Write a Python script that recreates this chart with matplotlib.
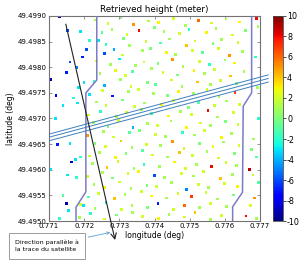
import matplotlib
matplotlib.use('Agg')
import matplotlib.pyplot as plt
from matplotlib.ticker import FormatStrFormatter, MultipleLocator

plt.rcParams['axes.unicode_minus'] = False

# retrieved heights: longitude, latitude, height (m)
lon = [
    0.77232, 0.77268, 0.77305, 0.77341, 0.77383, 0.77412, 0.77455, 0.77487, 0.77526, 0.77561, 0.77603, 0.77641,
    0.77251, 0.77279, 0.77322, 0.77356, 0.77399, 0.77427, 0.77472, 0.77498, 0.77547, 0.77575, 0.77621, 0.77658,
    0.77240, 0.77262, 0.77313, 0.77330, 0.77376, 0.77418, 0.77443, 0.77490, 0.77515, 0.77566, 0.77590, 0.77637,
    0.77258, 0.77285, 0.77309, 0.77365, 0.77389, 0.77433, 0.77460, 0.77507, 0.77536, 0.77582, 0.77612, 0.77650,
    0.77236, 0.77274, 0.77300, 0.77347, 0.77370, 0.77410, 0.77452, 0.77481, 0.77528, 0.77556, 0.77600, 0.77628,
    0.77245, 0.77290, 0.77317, 0.77338, 0.77392, 0.77424, 0.77466, 0.77512, 0.77541, 0.77571, 0.77616, 0.77654,
    0.77228, 0.77259, 0.77304, 0.77333, 0.77380, 0.77403, 0.77449, 0.77478, 0.77522, 0.77560, 0.77588, 0.77633,
    0.77216, 0.77253, 0.77281, 0.77327, 0.77355, 0.77398, 0.77437, 0.77469, 0.77510, 0.77549, 0.77583, 0.77629,
    0.77235, 0.77262, 0.77310, 0.77344, 0.77372, 0.77420, 0.77454, 0.77496, 0.77525, 0.77570, 0.77604, 0.77642,
    0.77213, 0.77246, 0.77291, 0.77320, 0.77364, 0.77391, 0.77440, 0.77474, 0.77505, 0.77552, 0.77579, 0.77624,
    0.77226, 0.77268, 0.77298, 0.77339, 0.77381, 0.77409, 0.77447, 0.77491, 0.77530, 0.77558, 0.77601, 0.77637,
    0.77210, 0.77255, 0.77283, 0.77328, 0.77358, 0.77403, 0.77432, 0.77479, 0.77514, 0.77543, 0.77590, 0.77619,
    0.77231, 0.77260, 0.77305, 0.77336, 0.77377, 0.77417, 0.77451, 0.77484, 0.77527, 0.77566, 0.77596, 0.77640,
    0.77216, 0.77243, 0.77289, 0.77319, 0.77367, 0.77395, 0.77438, 0.77470, 0.77508, 0.77549, 0.77581, 0.77627,
    0.77224, 0.77265, 0.77296, 0.77342, 0.77370, 0.77414, 0.77456, 0.77488, 0.77519, 0.77561, 0.77603, 0.77632,
    0.77209, 0.77252, 0.77280, 0.77325, 0.77354, 0.77400, 0.77429, 0.77476, 0.77511, 0.77540, 0.77587, 0.77621,
    0.77228, 0.77257, 0.77301, 0.77333, 0.77379, 0.77406, 0.77449, 0.77490, 0.77524, 0.77553, 0.77598, 0.77636,
    0.77212, 0.77240, 0.77286, 0.77316, 0.77362, 0.77392, 0.77435, 0.77467, 0.77505, 0.77546, 0.77578, 0.77625,
    0.77190, 0.77231, 0.77262, 0.77307, 0.77336, 0.77381, 0.77410, 0.77455, 0.77485, 0.77528, 0.77560, 0.77604,
    0.77186, 0.77218, 0.77259, 0.77292, 0.77337, 0.77367, 0.77412, 0.77441, 0.77486, 0.77515, 0.77559, 0.77591,
    # west bank
    0.77131, 0.77152, 0.77190, 0.77215, 0.77160, 0.77150, 0.77180, 0.77195, 0.77206, 0.77185,
    0.77200, 0.77105, 0.77120, 0.77170, 0.77182, 0.77118, 0.77140, 0.77125, 0.77160, 0.77175,
    0.77164, 0.77190, 0.77152, 0.77178, 0.77105, 0.77140, 0.77150, 0.77155, 0.77130, 0.77198,
    # east bank
    0.77690, 0.77694, 0.77688, 0.77692, 0.77695, 0.77682, 0.77675, 0.77690, 0.77670, 0.77680,
    0.77695, 0.77685, 0.77672, 0.77660, 0.77690,
]
lat = [
    49.49892, 49.49885, 49.49896, 49.49883, 49.49890, 49.49887, 49.49895, 49.49882, 49.49891, 49.49886, 49.49894, 49.49888,
    49.49867, 49.49874, 49.49864, 49.49872, 49.49877, 49.49869, 49.49865, 49.49873, 49.49868, 49.49876, 49.49863, 49.49871,
    49.49852, 49.49845, 49.49856, 49.49843, 49.49850, 49.49847, 49.49855, 49.49842, 49.49851, 49.49846, 49.49854, 49.49848,
    49.49827, 49.49834, 49.49824, 49.49832, 49.49837, 49.49829, 49.49825, 49.49833, 49.49828, 49.49836, 49.49823, 49.49831,
    49.49812, 49.49805, 49.49816, 49.49803, 49.49810, 49.49807, 49.49815, 49.49802, 49.49811, 49.49806, 49.49814, 49.49808,
    49.49787, 49.49794, 49.49784, 49.49792, 49.49797, 49.49789, 49.49785, 49.49793, 49.49788, 49.49796, 49.49783, 49.49791,
    49.49772, 49.49765, 49.49776, 49.49763, 49.49770, 49.49767, 49.49775, 49.49762, 49.49771, 49.49766, 49.49774, 49.49768,
    49.49747, 49.49754, 49.49744, 49.49752, 49.49757, 49.49749, 49.49745, 49.49753, 49.49748, 49.49756, 49.49743, 49.49751,
    49.49732, 49.49725, 49.49736, 49.49723, 49.49730, 49.49727, 49.49735, 49.49722, 49.49731, 49.49726, 49.49734, 49.49728,
    49.49707, 49.49714, 49.49704, 49.49712, 49.49717, 49.49709, 49.49705, 49.49713, 49.49708, 49.49716, 49.49703, 49.49711,
    49.49692, 49.49685, 49.49696, 49.49683, 49.49690, 49.49687, 49.49695, 49.49682, 49.49691, 49.49686, 49.49694, 49.49688,
    49.49667, 49.49674, 49.49664, 49.49672, 49.49677, 49.49669, 49.49665, 49.49673, 49.49668, 49.49676, 49.49663, 49.49671,
    49.49652, 49.49645, 49.49656, 49.49643, 49.49650, 49.49647, 49.49655, 49.49642, 49.49651, 49.49646, 49.49654, 49.49648,
    49.49627, 49.49634, 49.49624, 49.49632, 49.49637, 49.49629, 49.49625, 49.49633, 49.49628, 49.49636, 49.49623, 49.49631,
    49.49612, 49.49605, 49.49616, 49.49603, 49.49610, 49.49607, 49.49615, 49.49602, 49.49611, 49.49606, 49.49614, 49.49608,
    49.49587, 49.49594, 49.49584, 49.49592, 49.49597, 49.49589, 49.49585, 49.49593, 49.49588, 49.49596, 49.49583, 49.49591,
    49.49572, 49.49565, 49.49576, 49.49563, 49.49570, 49.49567, 49.49575, 49.49562, 49.49571, 49.49566, 49.49574, 49.49568,
    49.49547, 49.49554, 49.49544, 49.49552, 49.49557, 49.49549, 49.49545, 49.49553, 49.49548, 49.49556, 49.49543, 49.49551,
    49.49532, 49.49525, 49.49536, 49.49523, 49.49530, 49.49527, 49.49535, 49.49522, 49.49531, 49.49526, 49.49534, 49.49528,
    49.49507, 49.49514, 49.49504, 49.49512, 49.49517, 49.49509, 49.49505, 49.49513, 49.49508, 49.49516, 49.49503, 49.49511,
    # west bank
    49.49898, 49.49872, 49.49870, 49.49852, 49.49810, 49.49790, 49.49800, 49.49820, 49.49835, 49.49760,
    49.49770, 49.49776, 49.49745, 49.49740, 49.49730, 49.49700, 49.49725, 49.49650, 49.49652, 49.49620,
    49.49615, 49.49625, 49.49590, 49.49585, 49.49600, 49.49550, 49.49535, 49.49520, 49.49505, 49.49530,
    # east bank
    49.49895, 49.49880, 49.49820, 49.49760, 49.49700, 49.49660, 49.49640, 49.49625, 49.49600, 49.49590,
    49.49575, 49.49545, 49.49530, 49.49510, 49.49505,
]
height = [
    1, 2, 0, 5, 1, 3, 2, 1, 6, 2, 1, 3,
    -1, 1, 2, 8, 0, 1, 2, -2, 3, 1, 2, 0,
    -3, -2, 0, 1, 2, -1, 1, 4, 2, 0, 1, 2,
    -6, -4, 2, 1, 0, 3, 1, 2, -1, 2, 5, 1,
    2, 1, -3, 1, 2, 0, 5, 1, 2, -2, 1, 3,
    1, 3, 2, -1, 1, 2, 0, 3, 1, 2, 4, 1,
    -2, -4, 1, 2, 0, -1, 2, 1, 4, 1, 2, 0,
    -3, 2, -7, 1, 2, 1, 0, 3, 1, 2, 1, 7,
    1, 2, 0, 2, 1, 3, 2, 0, -1, 2, 1, 2,
    2, -2, 1, 2, 1, -1, 3, 1, 2, 8, 1, 2,
    1, 0, 2, -4, 1, 2, 1, 3, 2, 1, 0, 2,
    5, 1, 2, -1, 0, 2, 1, -2, 1, 2, 3, 1,
    0, 2, 4, 1, 2, 1, 5, 2, 0, 3, 1, 2,
    2, 1, 3, 0, -1, 2, 1, 4, 2, 1, 2, 0,
    1, 4, 2, 1, -2, 1, 3, 2, 1, 8, 2, 1,
    2, 1, 0, 2, 3, -6, 1, 2, 1, 2, 4, 1,
    1, 3, 2, 1, 0, 2, 1, -5, 2, 1, 2, 3,
    -1, 2, 4, 1, 2, 3, 1, 2, 7, 2, 1, 0,
    2, 1, -3, 2, 1, 0, -7, 2, 6, 1, 2, 1,
    1, -2, 2, 0, 1, 2, 3, 1, 2, 4, 1, 2,
    # west bank
    -9, -6, -3, -2, -6, -7, -5, -7, -6, -3,
    -3, -9, -8, -2, -3, -3, -3, -7, -3, -3,
    -9, -2, -3, -2, -3, -1, -9, -3, -2, -3,
    # east bank
    8, 1, -2, 1, -2, 1, 0, -1, 9, 2,
    -1, 5, 2, 8, 1,
]

# river banks
west_lon = [0.77236, 0.77236, 0.77205, 0.77205, 0.77177, 0.77177]
west_lat = [49.4990, 49.49775, 49.4975, 49.49557, 49.49527, 49.4950]
east_lon = [0.77676, 0.77676, 0.77652, 0.77650, 0.77622, 0.77622]
east_lat = [49.4990, 49.4975, 49.49724, 49.49556, 49.49528, 49.4950]

# cross lines
cross_lon = [0.77103, 0.77723]
cross_lat = [[49.49670, 49.49785], [49.49664, 49.49778], [49.49657, 49.49771]]

# satellite track direction
track_start = (0.77148, 49.49884)
track_end = (0.77288, 49.49463)

fig = plt.figure(figsize=(3.0, 2.61), dpi=100)
ax = fig.add_axes([0.163, 0.153, 0.704, 0.786])
cax = fig.add_axes([0.91, 0.153, 0.033, 0.786])

sc = ax.scatter(lon, lat, c=height, cmap='jet', vmin=-10, vmax=10,
                s=4, marker='s', linewidths=0, zorder=2)

ax.plot(west_lon, west_lat, color='#7b7bc8', lw=1.1, zorder=3)
ax.plot(east_lon, east_lat, color='#7b7bc8', lw=1.1, zorder=3)
for la in cross_lat:
    ax.plot(cross_lon, la, color='#3f7fbf', lw=0.7, zorder=3, clip_on=False)

ax.annotate('', xy=track_end, xytext=track_start,
            arrowprops=dict(arrowstyle='->', color='#222222', lw=0.8,
                            shrinkA=0, shrinkB=0),
            annotation_clip=False, zorder=4)

ax.annotate('Direction parallèle à\nla trace du satellite',
            xy=(0.77282, 49.49479), xycoords='data',
            xytext=(0.05, 0.0575), textcoords='figure fraction',
            fontsize=4.5, ha='left', va='center', linespacing=1.6,
            bbox=dict(boxstyle='square,pad=1.0', fc='white', ec='0.55', lw=0.6),
            arrowprops=dict(arrowstyle='->', color='#5a9fd4', lw=0.6),
            annotation_clip=False)

ax.set_xlim(0.771, 0.777)
ax.set_ylim(49.495, 49.499)
ax.xaxis.set_major_locator(MultipleLocator(0.001))
ax.yaxis.set_major_locator(MultipleLocator(0.0005))
ax.xaxis.set_major_formatter(FormatStrFormatter('%.3f'))
ax.yaxis.set_major_formatter(FormatStrFormatter('%.4f'))
ax.tick_params(direction='in', top=True, right=True, labelsize=5,
               length=2.5, width=0.5, pad=1.5, color='0.4')
for sp in ax.spines.values():
    sp.set_color('0.45')
    sp.set_linewidth(0.8)

ax.set_title('Retrieved height (meter)', fontsize=6.3, pad=2.5)
ax.set_xlabel('longitude (deg)', fontsize=5.5, labelpad=1.5)
ax.set_ylabel('latitude (deg)', fontsize=5.5, labelpad=2)

cb = fig.colorbar(sc, cax=cax, ticks=range(-10, 11, 2))
cb.ax.tick_params(labelsize=5.8, length=2, width=0.5, pad=1)
cb.outline.set_edgecolor('0.3')
cb.outline.set_linewidth(0.6)

fig.savefig('out.png', dpi=100)
